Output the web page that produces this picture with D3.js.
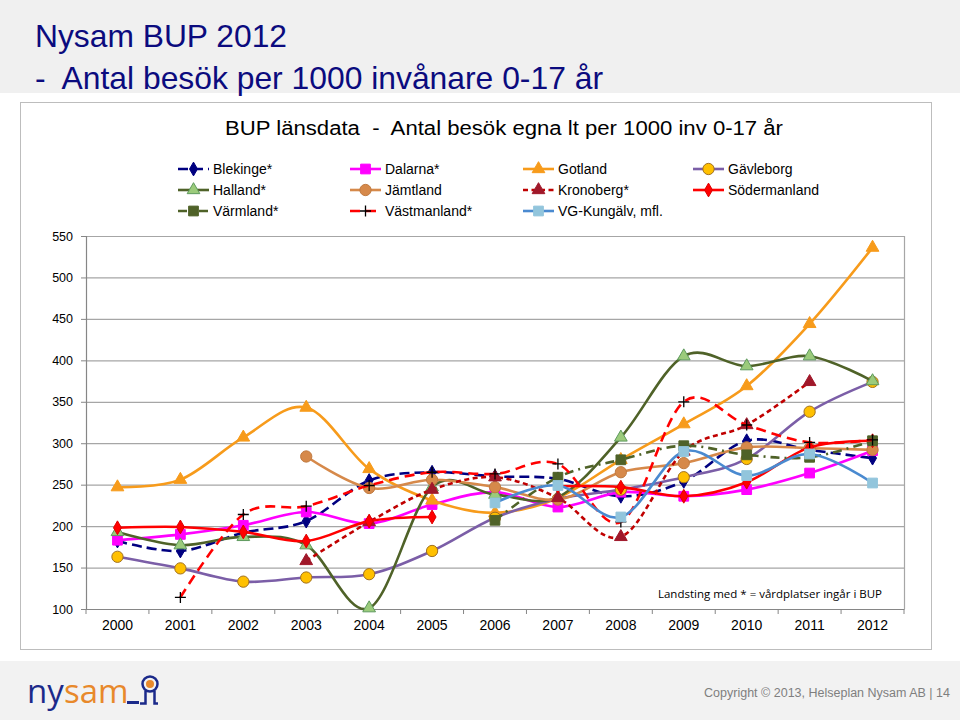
<!DOCTYPE html>
<html><head><meta charset="utf-8">
<script src="https://cdn.jsdelivr.net/npm/d3@7"></script>
<style>body{margin:0;background:#fff}svg{display:block}</style>
</head><body>
<svg id="c" width="960" height="720"></svg>
<script>
const years = [2000,2001,2002,2003,2004,2005,2006,2007,2008,2009,2010,2011,2012];
const yTicks = [100,150,200,250,300,350,400,450,500,550];

const blekinge     = [182,170,192,206,255,265,260,257,236,254,303,292,282];
const dalarna      = [183,190,201,217,203,226,241,223,241,236,244,264,291];
const gotland      = [247,256,307,343,269,231,216,234,280,323,369,444,536];
const gavleborg    = [163,149,133,138,142,170,210,233,244,259,281,338,374];
const halland      = [193,177,187,177,101,247,238,235,307,405,393,405,375];
const jamtland     = [null,null,null,284,246,256,247,232,265,276,295,294,292];
const kronoberg    = [null,null,null,158,205,244,259,234,187,290,322,374,null];
const sodermanland = [198,199,193,182,206,211,null,248,247,236,253,295,303];
const varmland     = [null,null,null,null,null,null,207,259,280,297,286,283,303];
const vastmanland  = [null,114,214,224,249,265,263,275,205,350,322,301,304];
const vgKungalv    = [null,null,null,null,null,null,228,249,211,290,261,287,252];

const seriesNames = ["Blekinge*","Dalarna*","Gotland","Gävleborg","Halland*","Jämtland",
  "Kronoberg*","Södermanland","Värmland*","Västmanland*","VG-Kungälv, mfl."];
const seriesValues = [blekinge,dalarna,gotland,gavleborg,halland,jamtland,kronoberg,
  sodermanland,varmland,vastmanland,vgKungalv];

const styles = [
  {color:"#000080", dash:"10,5", sym:"diamond", fill:"#000080", stroke:"#000080"},
  {color:"#FF00FF", dash:null, sym:"square", fill:"#FF00FF", stroke:"#FF00FF"},
  {color:"#F79B1B", dash:null, sym:"triangle", fill:"#F79B1B", stroke:"#F79B1B"},
  {color:"#7B5EA7", dash:null, sym:"circle", fill:"#FFC000", stroke:"#A07020"},
  {color:"#4F6228", dash:null, sym:"triangle", fill:"#9BCB7B", stroke:"#5E9A5E"},
  {color:"#D6894A", dash:null, sym:"circle", fill:"#D6894A", stroke:"#C07A40"},
  {color:"#C00000", dash:"5,3.5", sym:"triangle", fill:"#A0182A", stroke:"#A0182A"},
  {color:"#FF0000", dash:null, sym:"diamond", fill:"#FF0000", stroke:"#DD0000"},
  {color:"#4F6228", dash:"9,5,2,5", sym:"square", fill:"#4F6228", stroke:"#4F6228"},
  {color:"#FF0000", dash:"10,6", sym:"plus", fill:"none", stroke:"#000000"},
  {color:"#4A8AD0", dash:null, sym:"square", fill:"#92C5DC", stroke:"#92C5DC"}
];

(function(){
const svg = d3.select("#c");
const font = "'Liberation Sans', Arial, sans-serif";

// header
svg.append("rect").attr("x",0).attr("y",0).attr("width",960).attr("height",93).attr("fill","#F0F0F0");
svg.append("text").attr("x",35).attr("y",47).attr("font-family",font).attr("font-size",32)
  .attr("fill","#0B0B7E").attr("textLength",252).attr("lengthAdjust","spacingAndGlyphs").text("Nysam BUP 2012");
svg.append("text").attr("x",35).attr("y",89).attr("font-family",font).attr("font-size",32)
  .attr("fill","#0B0B7E").attr("xml:space","preserve").attr("textLength",568).attr("lengthAdjust","spacingAndGlyphs")
  .text("-  Antal besök per 1000 invånare 0-17 år");

// chart box
svg.append("rect").attr("x",20.5).attr("y",102.5).attr("width",911).attr("height",547)
  .attr("fill","#fff").attr("stroke","#BDBDBD").attr("stroke-width",1);
svg.append("text").attr("x",225).attr("y",135).attr("font-family",font)
  .attr("font-size",20).attr("fill","#000").attr("xml:space","preserve")
  .attr("textLength",558).attr("lengthAdjust","spacingAndGlyphs")
  .text("BUP länsdata  -  Antal besök egna lt per 1000 inv 0-17 år");

// footer
svg.append("rect").attr("x",0).attr("y",661).attr("width",960).attr("height",59).attr("fill","#F2F2F2");

const pL=86, pR=904, pT=236, pB=609;
const x = d3.scaleBand().domain(years).range([pL,pR]);
const y = d3.scaleLinear().domain([100,550]).range([pB,pT]);

// gridlines
svg.append("g").selectAll("line").data(yTicks.slice(1)).join("line")
  .attr("x1",pL).attr("x2",pR).attr("y1",d=>y(d)+0.5).attr("y2",d=>y(d)+0.5)
  .attr("stroke","#A6A6A6").attr("stroke-width",1.2);
svg.append("line").attr("x1",pR+0.5).attr("x2",pR+0.5).attr("y1",pT).attr("y2",pB)
  .attr("stroke","#A6A6A6").attr("stroke-width",1.2);

// y axis
const ya = svg.append("g").attr("transform",`translate(${pL},0)`)
  .call(d3.axisLeft(y).tickValues(yTicks).tickSize(5).tickPadding(8).tickFormat(d3.format("d")));
ya.select(".domain").attr("stroke","#868686").attr("stroke-width",1.2);
ya.selectAll(".tick line").attr("stroke","#868686");
ya.selectAll("text").attr("font-family",font).attr("font-size",12.5).attr("fill","#000");

// x axis
const xa = svg.append("g").attr("transform",`translate(0,${pB})`)
  .call(d3.axisBottom(x).tickSize(0).tickPadding(11));
xa.select(".domain").attr("stroke","#868686").attr("stroke-width",1.2);
xa.selectAll("text").attr("font-family",font).attr("font-size",14).attr("fill","#000");
svg.append("g").selectAll("line").data(d3.range(years.length+1)).join("line")
  .attr("x1",i=>pL + i*x.step()).attr("x2",i=>pL + i*x.step())
  .attr("y1",pB).attr("y2",pB+5).attr("stroke","#868686");

// note
svg.append("text").attr("x",770).attr("y",598).attr("text-anchor","middle")
  .attr("font-family","'Open Sans', Lato, sans-serif").attr("font-size",11.5).attr("fill","#000")
  .text("Landsting med * = vårdplatser ingår i BUP");

function symPath(type){
  if(type==="diamond") return d3.symbol(d3.symbolDiamond,55)();
  if(type==="square") return d3.symbol(d3.symbolSquare,95)();
  if(type==="triangle") return d3.symbol(d3.symbolTriangle,70)();
  if(type==="circle") return d3.symbol(d3.symbolCircle,100)();
  if(type==="plus") return "M-5.5,0H5.5M0,-5.5V5.5";
}

const cx = d => x(d) + x.bandwidth()/2;
const line = d3.line().defined(d=>d.v!=null).x(d=>cx(d.year)).y(d=>y(d.v))
  .curve(d3.curveCatmullRom.alpha(0));

const plot = svg.append("g");
seriesValues.forEach((vals,i)=>{
  const st = styles[i];
  const pts = years.map((yr,j)=>({year:yr, v:vals[j]}));
  const g = plot.append("g");
  g.append("path").datum(pts).attr("d",line).attr("fill","none")
    .attr("stroke",st.color).attr("stroke-width",2.6)
    .attr("stroke-dasharray",st.dash).attr("stroke-linejoin","round");
  g.selectAll("path.m").data(pts.filter(p=>p.v!=null)).join("path").attr("class","m")
    .attr("transform",p=>`translate(${cx(p.year)},${y(p.v)})`)
    .attr("d",symPath(st.sym)).attr("fill",st.fill).attr("stroke",st.stroke)
    .attr("stroke-width",st.sym==="plus"?1.3:1);
});

// legend
const colX = [178,350,523,693];
const rowY = [169,190,211];
const leg = svg.append("g");
seriesNames.forEach((name,i)=>{
  const st = styles[i];
  const gx = colX[i%4], gy = rowY[Math.floor(i/4)];
  const g = leg.append("g").attr("transform",`translate(${gx},${gy})`);
  g.append("line").attr("x1",0).attr("x2",31).attr("y1",0).attr("y2",0)
    .attr("stroke",st.color).attr("stroke-width",2.6).attr("stroke-dasharray",st.dash);
  g.append("path").attr("transform","translate(15.5,0)").attr("d",symPath(st.sym))
    .attr("fill",st.fill).attr("stroke",st.stroke).attr("stroke-width",st.sym==="plus"?1.3:1);
  g.append("text").attr("x",35).attr("y",5).attr("font-family",font).attr("font-size",14)
    .attr("fill","#000").text(name);
});

// footer logo
const logo = svg.append("g").attr("transform","translate(27,703)");
logo.append("text").attr("x",0).attr("y",0).attr("font-family","'Open Sans', sans-serif")
  .attr("font-size",33).attr("fill","#1B2A8A").text("ny");
logo.append("text").attr("x",37).attr("y",0).attr("font-family","'Open Sans', sans-serif")
  .attr("font-size",33).attr("fill","#E8892B").text("sam");
logo.append("rect").attr("x",100).attr("y",-2).attr("width",12).attr("height",3).attr("fill","#1B2A8A");
logo.append("circle").attr("cx",123).attr("cy",-19).attr("r",7.5).attr("fill","none").attr("stroke","#1B2A8A").attr("stroke-width",2.5);
logo.append("circle").attr("cx",123).attr("cy",-19).attr("r",4).attr("fill","#E8892B");
logo.append("path").attr("d","M118.5,-12V0.5H113M127.5,-12V0.5H131").attr("fill","none").attr("stroke","#1B2A8A").attr("stroke-width",2.5);

svg.append("text").attr("x",950).attr("y",697).attr("text-anchor","end").attr("font-family",font)
  .attr("font-size",12.5).attr("fill","#7F7F7F").attr("xml:space","preserve")
  .text("Copyright © 2013, Helseplan Nysam AB | 14");
})();
</script>
</body></html>
